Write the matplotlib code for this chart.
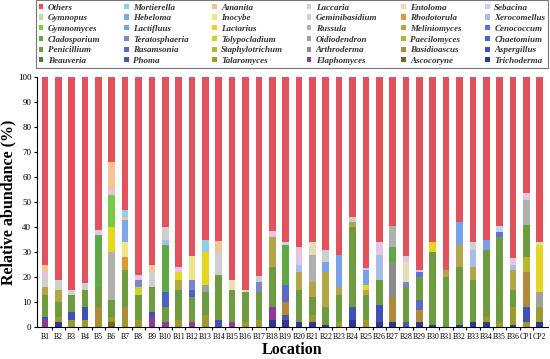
import numpy as np
import matplotlib.pyplot as plt
from matplotlib.ticker import MultipleLocator

plt.rcParams['font.family'] = ['Liberation Serif', 'DejaVu Serif']

# locations on the x axis
locations = ['B%d' % i for i in range(1, 37)] + ['CP1', 'CP2']
idx = {name: i for i, name in enumerate(locations)}


def series(**vals):
    # relative abundance (%) of one genus per location, 0 where absent
    out = np.zeros(len(locations))
    for k, v in vals.items():
        out[idx[k]] = v
    return out


# genera, bottom of the stack first (Others is what is left up to 100 %)
trichoderma = series(B2=2, B18=3, B19=3, B20=2, B21=2, B22=1, B24=3, B26=2, B27=2,
                     B29=2, B30=1, B32=1, B33=2, B34=2, B36=1, CP2=2)
ascocoryne = series(B6=2)
elaphomyces = series(B1=3, B9=4, B10=2, B12=2, B15=2, B18=5)
talaromyces = series(B2=2, B3=3, B4=3, B5=2, B6=2, B7=3, B8=3, B11=3, B13=5, B16=2,
                     B17=3, B21=3, B23=2, B25=3, B34=2, B35=2, B36=7, CP1=2, CP2=6)
phoma = series(B19=2, B28=2)
beauveria = series()
aspergillus = series(B1=1, B3=3, B4=5, B9=2, B14=3, B24=5, B26=7, CP1=6)
basidioascus = series(B5=6, B7=5, B19=5, B27=10, B29=5, CP1=14)
arthroderma = series(B27=14)
staphylotrichum = series(CP1=6)
rasamsonia = series(B19=7, B29=4)
penicillium = series(B1=9, B2=6, B3=7, B4=7, B5=8, B6=7, B7=15, B8=10, B9=10, B10=6,
                     B11=12, B12=10, B13=9, B14=18, B15=13, B16=12, B17=11, B18=16,
                     B20=13, B21=7, B22=7, B23=11, B24=32, B25=10, B26=10, B28=14,
                     B29=9, B30=29, B31=20, B32=23, B33=17, B34=27, B35=34, B36=7,
                     CP1=13)
chaetomium = series(B10=6, B12=3)
paecilomyces = series()
oidiodendron = series(B13=3, CP2=6)
tolypocladium = series(B8=3)
teratosphaeria = series(B8=3, B12=4, B17=4, B28=2)
cladosporium = series(B5=21, B10=19, B19=16, B27=6)
cenococcum = series(B29=2, B35=2)
meliniomyces = series(B1=3, B2=5, B11=4, B18=12, B20=7, B21=6, B22=14, B23=3, B24=2,
                      B25=2, B31=3, B32=9, B33=5, B36=8)
russula = series(B6=19, B21=11, B27=8.5, CP1=10)
lactarius = series(B6=10, B11=3, B13=13, B25=2, B30=4, CP2=19)
lactifluus = series(B22=4, B23=13, B25=6, B32=9, B34=4)
gymnomyces = series(B6=13)
xerocomellus = series(B10=2, B20=3, B26=10, B33=7, B36=2)
rhodotorula = series(B7=5)
geminibasidium = series(B1=4, B2=4, B3=2, B4=2.5, B9=6, B10=5, B14=9, B17=2.5, B22=5,
                        B24=2, B33=3)
inocybe = series(B7=6, B12=9.5)
hebeloma = series(B7=9)
gymnopus = series()
sebacina = series(B19=1, B35=2.5)
entoloma = series(B15=4, B16=1, B21=5, B28=8, CP2=1)
laccaria = series(B1=2, B5=2, B6=2, B8=2, B11=2, B18=2.5, B20=7, B25=0.5, B26=5,
                  B28=2.5, B29=1, B36=2.5, CP1=2.5)
amanita = series(B1=3, B6=11, B7=1, B9=3, B14=4.5)
mortierella = series(B7=3, B13=5)

stack = [
    ('Trichoderma', trichoderma, '#2B3990'),
    ('Ascocoryne', ascocoryne, '#6B6B2A'),
    ('Elaphomyces', elaphomyces, '#8E3B96'),
    ('Talaromyces', talaromyces, '#9A9A2E'),
    ('Phoma', phoma, '#4B57A8'),
    ('Beauveria', beauveria, '#4E7A34'),
    ('Aspergillus', aspergillus, '#3F51B5'),
    ('Basidioascus', basidioascus, '#B08A3A'),
    ('Arthroderma', arthroderma, '#8C8C8C'),
    ('Staphylotrichum', staphylotrichum, '#B5B830'),
    ('Rasamsonia', rasamsonia, '#5C6BC0'),
    ('Penicillium', penicillium, '#6E9B3F'),
    ('Chaetomium', chaetomium, '#4A62C8'),
    ('Paecilomyces', paecilomyces, '#A8B545'),
    ('Oidiodendron', oidiodendron, '#A0A0A0'),
    ('Tolypocladium', tolypocladium, '#C9D52A'),
    ('Teratosphaeria', teratosphaeria, '#7C86D0'),
    ('Cladosporium', cladosporium, '#5FA845'),
    ('Cenococcum', cenococcum, '#5A6FE0'),
    ('Meliniomyces', meliniomyces, '#B3A548'),
    ('Russula', russula, '#B0B0B0'),
    ('Lactarius', lactarius, '#E6D620'),
    ('Lactifluus', lactifluus, '#76A2E8'),
    ('Gymnomyces', gymnomyces, '#7CC84A'),
    ('Xerocomellus', xerocomellus, '#A8BEEA'),
    ('Rhodotorula', rhodotorula, '#D99A3A'),
    ('Geminibasidium', geminibasidium, '#CFCFCF'),
    ('Inocybe', inocybe, '#EDE58A'),
    ('Hebeloma', hebeloma, '#7FA8E8'),
    ('Gymnopus', gymnopus, '#C7D8A8'),
    ('Sebacina', sebacina, '#C4D4EC'),
    ('Entoloma', entoloma, '#E8DCB5'),
    ('Laccaria', laccaria, '#E3C3E6'),
    ('Amanita', amanita, '#F6C396'),
    ('Mortierella', mortierella, '#8FD0E8'),
]
others = 100 - sum(v for _, v, _ in stack)
stack.append(('Others', others, '#E2525C'))

fig = plt.figure(figsize=(5.5, 3.59), dpi=100)
ax = fig.add_axes([0.067, 0.089, 0.929, 0.696])

x = np.arange(len(locations))
bottom = np.zeros(len(locations))
handles = {}
for name, vals, color in stack:
    h = ax.bar(x, vals, 0.5, bottom=bottom, color=color, linewidth=0)
    handles[name] = h
    bottom += vals

ax.set_xlim(-0.6, len(locations) - 0.4)
ax.set_ylim(0, 100)
ax.yaxis.set_major_locator(MultipleLocator(10))
ax.set_xticks(x)
ax.set_xticklabels(locations, fontsize=5.6)
ax.set_xticks(x[:-1] + 0.5, minor=True)
ax.tick_params(axis='x', which='major', length=0, pad=4)
ax.tick_params(axis='x', which='minor', length=2.5, width=0.8)
ax.tick_params(axis='y', labelsize=6.5, length=2.5, width=0.8, pad=1.5)
for s in ['top', 'right']:
    ax.spines[s].set_visible(False)
for s in ['left', 'bottom']:
    ax.spines[s].set_linewidth(0.8)

ax.set_ylabel('Relative abundance (%)', fontsize=11.5, fontweight='bold', labelpad=1)
ax.set_xlabel('Location', fontsize=11.5, fontweight='bold', labelpad=1)

# legend order as in the figure (row by row, 6 columns)
legend_order = ['Others', 'Mortierella', 'Amanita', 'Laccaria', 'Entoloma', 'Sebacina',
                'Gymnopus', 'Hebeloma', 'Inocybe', 'Geminibasidium', 'Rhodotorula', 'Xerocomellus',
                'Gymnomyces', 'Lactifluus', 'Lactarius', 'Russula', 'Meliniomyces', 'Cenococcum',
                'Cladosporium', 'Teratosphaeria', 'Tolypocladium', 'Oidiodendron', 'Paecilomyces', 'Chaetomium',
                'Penicillium', 'Rasamsonia', 'Staphylotrichum', 'Arthroderma', 'Basidioascus', 'Aspergillus',
                'Beauveria', 'Phoma', 'Talaromyces', 'Elaphomyces', 'Ascocoryne', 'Trichoderma']
ncol = 6
nrow = len(legend_order) // ncol
# matplotlib fills legends column by column, so reorder
col_major = [legend_order[r * ncol + c] for c in range(ncol) for r in range(nrow)]
leg = fig.legend([handles[n] for n in col_major], col_major, ncol=ncol,
                 loc='lower left', bbox_to_anchor=(0.065, 0.81, 0.932, 0.182), mode='expand',
                 prop={'size': 6.5, 'style': 'italic', 'weight': 'bold'},
                 handlelength=0.5, handleheight=0.5, handletextpad=0.5,
                 labelspacing=0.3, borderpad=0.35, columnspacing=1.0,
                 frameon=True, fancybox=False, edgecolor='#555555', borderaxespad=0)
leg.get_frame().set_linewidth(0.8)
for t in leg.get_texts():
    t.set_color('#333333')

fig.savefig('out.png', dpi=100)
